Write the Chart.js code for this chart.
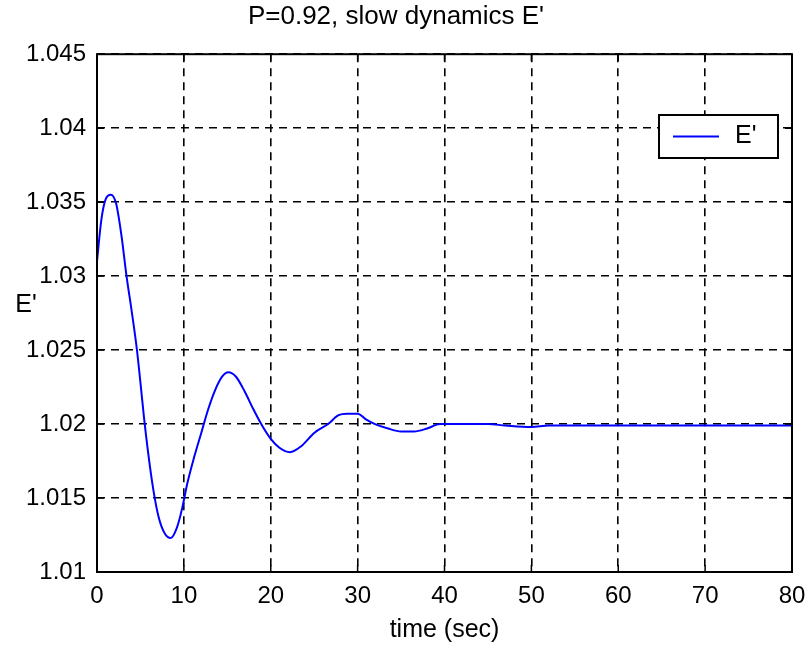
<!DOCTYPE html>
<html>
<head>
<meta charset="utf-8">
<script src="https://cdn.jsdelivr.net/npm/chart.js@4/dist/chart.umd.min.js"></script>
<style>
  html, body { margin: 0; padding: 0; background: #fff; }
  #wrap { width: 808px; height: 649px; }
</style>
</head>
<body>
<div id="wrap"><canvas id="chart" width="808" height="649"></canvas></div>
<script>
// time (sec) and E'
const timeSec = [0, 0.5, 1.0, 1.6, 2.2, 2.8, 3.4, 4.0, 4.6, 5.0, 5.4, 5.9, 6.5, 7.1, 7.8,
  8.5, 9.2, 9.8, 10.4, 11.2, 12.0, 12.8, 13.6, 14.4, 15.1, 16.0, 17.0, 18.0, 19.0,
  20.0, 21.0, 22.2, 23.5, 25.0, 26.6, 27.8, 28.8, 30.0, 31.0, 32.0, 33.5, 35.0, 36.5,
  38.0, 39.5, 42, 45, 47, 50, 52, 60, 70, 80];
const ePrime = [1.0310, 1.0338, 1.0352, 1.0355, 1.0349, 1.0328, 1.0300, 1.0276, 1.0250,
  1.0228, 1.0205, 1.0180, 1.0155, 1.0137, 1.0126, 1.0123, 1.0130, 1.0143, 1.0160,
  1.0178, 1.0194, 1.0210, 1.0223, 1.0232, 1.0235, 1.0232, 1.0222, 1.0210, 1.0199,
  1.0190, 1.0184, 1.0181, 1.0185, 1.0194, 1.0200, 1.0206, 1.0207, 1.0207, 1.0203,
  1.0200, 1.0197, 1.0195, 1.0195, 1.0197, 1.0200, 1.0200, 1.0200, 1.0199, 1.0198,
  1.0199, 1.0199, 1.0199, 1.0199];
const xTicks = [0, 10, 20, 30, 40, 50, 60, 70, 80];
const yTickLabels = ['1.01', '1.015', '1.02', '1.025', '1.03', '1.035', '1.04', '1.045'];

const FONT = "'Liberation Sans', Arial, sans-serif";

// box, inward ticks, upright y label and the legend, matlab style
const matlabFrame = {
  id: 'matlabFrame',
  afterDraw(chart) {
    const { ctx, chartArea: a, scales: { x, y } } = chart;
    ctx.save();
    ctx.strokeStyle = '#000';
    ctx.lineWidth = 2;
    ctx.setLineDash([]);
    ctx.strokeRect(a.left, a.top, a.right - a.left, a.bottom - a.top);

    ctx.lineWidth = 1.5;
    const t = 7;
    ctx.beginPath();
    xTicks.forEach(v => {
      const px = x.getPixelForValue(v);
      ctx.moveTo(px, a.bottom); ctx.lineTo(px, a.bottom - t);
      ctx.moveTo(px, a.top); ctx.lineTo(px, a.top + t);
    });
    yTickLabels.forEach(s => {
      const py = y.getPixelForValue(parseFloat(s));
      ctx.moveTo(a.left, py); ctx.lineTo(a.left + t, py);
      ctx.moveTo(a.right, py); ctx.lineTo(a.right - t, py);
    });
    ctx.stroke();

    // y label, not rotated
    ctx.fillStyle = '#000';
    ctx.font = '25px ' + FONT;
    ctx.textAlign = 'center';
    ctx.textBaseline = 'middle';
    ctx.fillText("E'", 26, (a.top + a.bottom) / 2 - 8);

    // legend
    const ds = chart.data.datasets[0];
    const bx = 659, by = 115, bw = 119, bh = 43;
    ctx.fillStyle = '#fff';
    ctx.fillRect(bx, by, bw, bh);
    ctx.lineWidth = 2;
    ctx.strokeRect(bx, by, bw, bh);
    ctx.strokeStyle = ds.borderColor;
    ctx.lineWidth = 2;
    ctx.beginPath();
    ctx.moveTo(673, by + bh / 2);
    ctx.lineTo(719, by + bh / 2);
    ctx.stroke();
    ctx.fillStyle = '#000';
    ctx.textAlign = 'left';
    ctx.fillText(ds.label, 735, by + bh / 2);
    ctx.restore();
  }
};

new Chart(document.getElementById('chart'), {
  type: 'line',
  data: {
    datasets: [{
      label: "E'",
      data: timeSec.map((t, i) => ({ x: t, y: ePrime[i] })),
      borderColor: '#0000ff',
      borderWidth: 2,
      pointRadius: 0,
      cubicInterpolationMode: 'monotone',
      fill: false
    }]
  },
  options: {
    responsive: false,
    animation: false,
    layout: { padding: { left: 0, right: 16, top: 0, bottom: 0 } },
    plugins: {
      legend: { display: false },
      tooltip: { enabled: false },
      title: {
        display: true,
        text: "P=0.92, slow dynamics E'",
        color: '#000',
        font: { family: FONT, size: 26, weight: 'normal' },
        padding: { top: 1, bottom: 22 }
      }
    },
    scales: {
      x: {
        type: 'linear',
        min: 0,
        max: 80,
        afterBuildTicks: s => { s.ticks = xTicks.map(v => ({ value: v })); },
        ticks: { color: '#000', font: { family: FONT, size: 24 }, padding: 10, maxRotation: 0 },
        grid: { color: '#000', lineWidth: 1.6, drawTicks: false },
        border: { display: false, dash: [8, 6] },
        title: {
          display: true,
          text: 'time (sec)',
          color: '#000',
          font: { family: FONT, size: 25 },
          padding: { top: 0, bottom: 4 }
        },
        afterFit: s => { s.height = 77; s.paddingLeft = 0; s.paddingRight = 0; }
      },
      y: {
        type: 'linear',
        min: 1.01,
        max: 1.045,
        afterBuildTicks: s => { s.ticks = yTickLabels.map(v => ({ value: parseFloat(v) })); },
        ticks: {
          color: '#000',
          font: { family: FONT, size: 24 },
          padding: 11,
          callback: (v, i) => yTickLabels[i]
        },
        grid: { color: '#000', lineWidth: 1.6, drawTicks: false },
        border: { display: false, dash: [8, 6] },
        afterFit: s => { s.width = 97; }
      }
    }
  },
  plugins: [matlabFrame]
});
</script>
</body>
</html>
